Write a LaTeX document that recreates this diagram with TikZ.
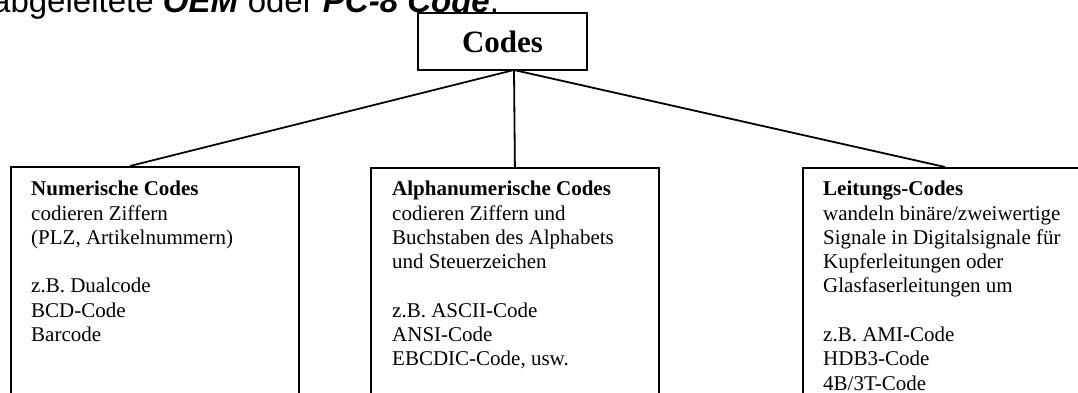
\documentclass[tikz,border=0pt]{standalone}
\usepackage{fontspec}
\setmainfont{Liberation Serif}
\newfontfamily\arialfont{Liberation Sans}
\begin{document}
\begin{tikzpicture}[x=1pt,y=-1pt,
  frame/.style={draw,line width=1.8pt,inner sep=0pt,anchor=north west},
  conn/.style={line width=1.8pt},
  body/.style={anchor=north west,inner sep=0pt,align=left,font=\fontsize{21}{24.3}\selectfont}]
\useasboundingbox (0,0) rectangle (1078,392);
\clip (0,0) rectangle (1078,392);
\fill[white] (0,0) rectangle (1078,392);
\node[anchor=base west,inner sep=0pt] (top) at (-8,12)
  {\arialfont\fontsize{33}{38}\selectfont abgeleitete \textbf{\textit{OEM}} oder \textbf{\textit{PC-8 Code}}.};
\node[draw,line width=1.8pt,minimum width=169pt,minimum height=57pt,inner sep=0pt,
  font=\fontsize{31}{36}\selectfont\bfseries] (codes) at (502.5,41.5) {Codes};
\node[frame,minimum width=288pt,minimum height=300pt] (b1) at (10,166) {};
\node[frame,minimum width=288pt,minimum height=300pt] (b2) at (370,167) {};
\node[frame,minimum width=300pt,minimum height=300pt] (b3) at (802,167) {};
\coordinate (j) at (514,70);
\coordinate (e1) at (130,166);
\coordinate (e3) at (945,167);
\draw[conn] (j) -- (e1);
\draw[conn] (j) -- (b2.north);
\draw[conn] (j) -- (e3);
\node[body] (t1) at (31,181) {\textbf{Numerische Codes}\\codieren Ziffern\\(PLZ, Artikelnummern)\\[24.3pt]z.B. Dualcode\\BCD-Code\\Barcode};
\node[body] (t2) at (392,181) {\textbf{Alphanumerische Codes}\\codieren Ziffern und\\Buchstaben des Alphabets\\und Steuerzeichen\\[24.3pt]z.B. ASCII-Code\\ANSI-Code\\EBCDIC-Code, usw.};
\node[body] (t3) at (823,181) {\textbf{Leitungs-Codes}\\wandeln binäre/zweiwertige\\Signale in Digitalsignale für\\Kupferleitungen oder\\Glasfaserleitungen um\\[24.3pt]z.B. AMI-Code\\HDB3-Code\\4B/3T-Code};
\end{tikzpicture}
\end{document}
